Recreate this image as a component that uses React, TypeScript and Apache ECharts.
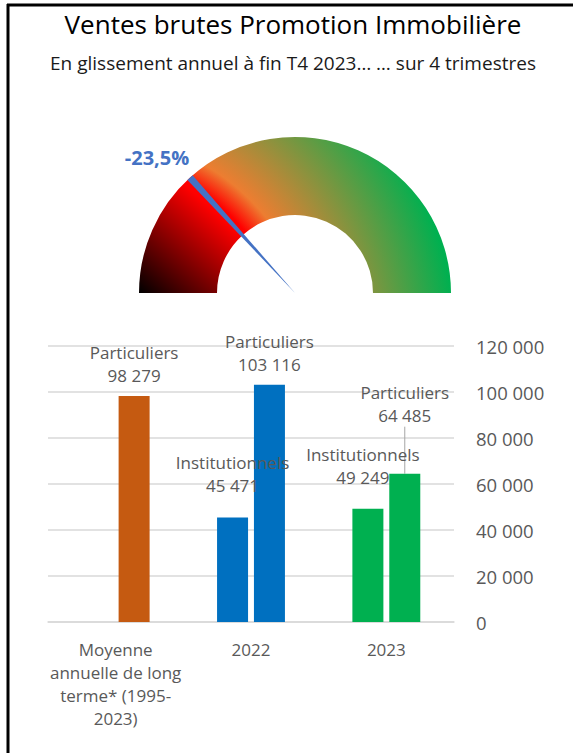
import React, { useEffect, useRef } from "react";
import * as echarts from "echarts";

// ---- Data ----
const titleText = "Ventes brutes Promotion Immobilière";
const subtitleText = "En glissement annuel à fin T4 2023… … sur 4 trimestres";
const categories = ["Moyenne\nannuelle de long\nterme* (1995-\n2023)", "2022", "2023"];
const seriesNames = ["Institutionnels", "Particuliers"];
const institutionnels: (number | null)[] = [null, 45471, 49249];
const particuliers: number[] = [98279, 103116, 64485];
const categoryColors = ["#C55A11", "#0070C0", "#00B050"];
const yMin = 0;
const yMax = 120000;
const yInterval = 20000;
const gaugeValue = -23.5;
const gaugeMin = -50;
const gaugeMax = 50;

const FONT = "'Open Sans', 'Noto Sans', sans-serif";
const fmt = (n: number) => String(n).replace(/\B(?=(\d{3})+(?!\d))/g, " ");

export default function App() {
  const ref = useRef<HTMLDivElement>(null);
  useEffect(() => {
    if (!ref.current) return;
    const chart = echarts.init(ref.current, undefined, { renderer: "svg" });
    const cx = 295;
    const cy = 293;
    const R = 156;
    const r0 = 78;
    const frac = (gaugeValue - gaugeMin) / (gaugeMax - gaugeMin);
    const ang = Math.PI * (1 - frac);
    const s1x2 = cx + r0 * Math.cos(ang);
    const s1y2 = cy - R * Math.sin(ang);
    const grad1 = new echarts.graphic.LinearGradient(
      cx - R, cy, s1x2, s1y2,
      [
        { offset: 0, color: "#000000" },
        { offset: 0.72, color: "#FF0000" },
        { offset: 1, color: "#FF0000" },
      ],
      true
    );
    const grad2 = new echarts.graphic.RadialGradient(
      100, 350, 360,
      [
        { offset: 0, color: "#FF0000" },
        { offset: 0.52, color: "#FF0000" },
        { offset: 0.59, color: "#ED7D31" },
        { offset: 0.99, color: "#00B050" },
        { offset: 1, color: "#00B050" },
      ],
      true
    );
    const labelStyle = {
      show: true,
      position: "top",
      distance: 9,
      color: "#595959",
      fontSize: 17,
      lineHeight: 23,
      fontFamily: FONT,
    };
    chart.setOption({
      animation: false,
      graphic: [
        { type: "line", shape: { x1: 7, y1: 5, x2: 573, y2: 5 }, style: { stroke: "#000", lineWidth: 3 } },
        { type: "line", shape: { x1: 8, y1: 4, x2: 8, y2: 753 }, style: { stroke: "#000", lineWidth: 3 } },
        {
          type: "text",
          x: 293,
          y: 24,
          style: { text: titleText, fontSize: 26, fill: "#000", align: "center", verticalAlign: "middle", fontFamily: FONT },
        },
        {
          type: "text",
          x: 293,
          y: 63,
          style: { text: subtitleText, fontSize: 19, fill: "#1a1a1a", align: "center", verticalAlign: "middle", fontFamily: FONT },
        },
      ],
      grid: { left: 48, right: 119, top: 346, bottom: 131 },
      xAxis: {
        type: "category",
        data: categories,
        axisLine: { lineStyle: { color: "#D9D9D9", width: 1.5 } },
        axisTick: { show: false },
        axisLabel: { interval: 0, color: "#595959", fontSize: 17, lineHeight: 23, margin: 16, fontFamily: FONT },
      },
      yAxis: {
        type: "value",
        position: "right",
        min: yMin,
        max: yMax,
        interval: yInterval,
        axisLine: { show: false },
        axisTick: { show: false },
        splitLine: { lineStyle: { color: "#D9D9D9", width: 1.5 } },
        axisLabel: { color: "#595959", fontSize: 18.5, margin: 22, fontFamily: FONT, formatter: (v: number) => fmt(v) },
      },
      series: [
        {
          type: "bar",
          name: seriesNames[0],
          barWidth: 31,
          barGap: "19%",
          data: institutionnels.map((v, i) => ({ value: v, itemStyle: { color: categoryColors[i] } })),
          label: { ...labelStyle, formatter: (p: any) => `${p.seriesName}\n${fmt(p.value)}` },
          labelLayout: (p: any) => ({ dx: p.dataIndex === 2 ? -5 : 0, dy: -11 }),
        },
        {
          type: "bar",
          name: seriesNames[1],
          barWidth: 31,
          data: particuliers.map((v, i) => ({
            value: v,
            itemStyle: { color: categoryColors[i] },
            labelLine: i === 2 ? { show: true, lineStyle: { color: "#A6A6A6", width: 1 } } : { show: false },
          })),
          label: { ...labelStyle, formatter: (p: any) => `${p.seriesName}\n${fmt(p.value)}` },
          labelLayout: (p: any) => (p.dataIndex === 2 ? { dy: -38 } : {}),
        },
        {
          type: "gauge",
          center: [cx, cy],
          radius: R,
          startAngle: 180,
          endAngle: 0,
          min: gaugeMin,
          max: gaugeMax,
          axisLine: { lineStyle: { width: R - r0, color: [[frac, grad1], [1, grad2]] } },
          axisTick: { show: false },
          splitLine: { show: false },
          axisLabel: { show: false },
          progress: { show: false },
          anchor: { show: false },
          pointer: {
            icon: "path://M0,0L10,0L5,100Z",
            length: "100%",
            width: 7,
            itemStyle: { color: "#4472C4" },
          },
          title: { show: false },
          detail: {
            offsetCenter: [-138, -136],
            formatter: (v: number) => `${v.toFixed(1).replace(".", ",")}%`,
            fontSize: 20,
            fontWeight: "bold",
            color: "#4472C4",
            fontFamily: FONT,
          },
          data: [{ value: gaugeValue }],
        },
      ],
    });
    return () => chart.dispose();
  }, []);
  return <div ref={ref} style={{ position: "absolute", left: 0, top: 0, width: 573, height: 753, background: "#fff" }} />;
}
